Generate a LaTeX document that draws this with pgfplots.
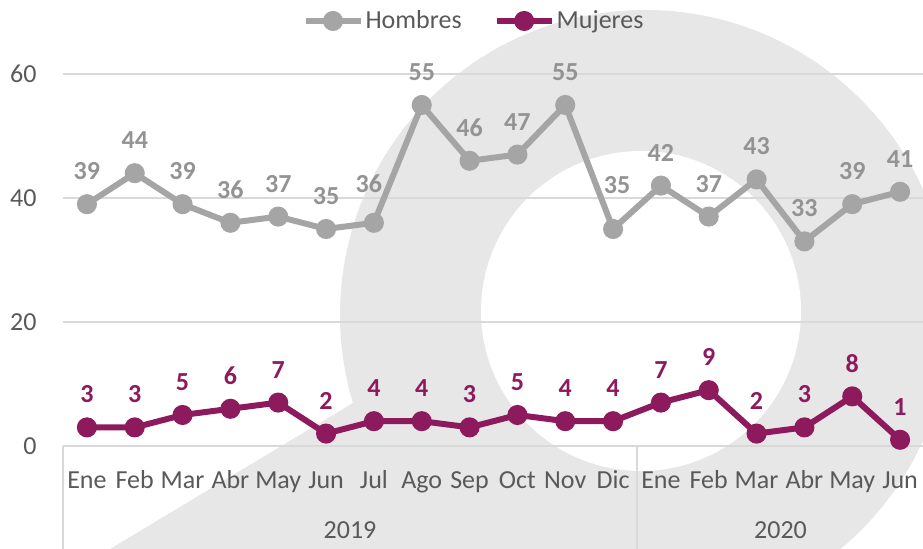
\documentclass[border=0pt]{standalone}
\usepackage{pgfplots}
\pgfplotsset{compat=1.18}
\usepackage{pgfplotstable}
\usepackage{fontspec}
\setmainfont{Carlito}

\definecolor{hgray}{HTML}{A5A5A5}
\definecolor{hlab}{HTML}{939393}
\definecolor{mpurple}{HTML}{8E1A5E}
\definecolor{txt}{HTML}{595959}
\definecolor{gridc}{HTML}{D9D9D9}
\definecolor{wm}{HTML}{E7E7E8}

% x = month index, h = Hombres, m = Mujeres, dx/dy = label nudges (pt)
\pgfplotstableread{
x  h  m  hdx  hdy
0  39 3  0    0
1  44 3  0    0
2  39 5  0    0
3  36 6  0    0
4  37 7  0    0
5  35 2  0    0
6  36 4  -2.5 3
7  55 4  0    0
8  46 3  0    0
9  47 5  0    0
10 55 4  0    0
11 35 4  2    5.5
12 42 7  0    0
13 37 9  0    0
14 43 2  0    0
15 33 3  0    0
16 39 8  0    0
17 41 1  0    0
}\datatable

\newcommand\txtfont{\fontsize{13}{15}\selectfont}
\newcommand\lblfont{\fontsize{13}{15}\selectfont\bfseries}

\begin{document}
\begin{tikzpicture}
\useasboundingbox (0,0) rectangle (461.5pt,274.5pt);
% watermark in the background
\begin{scope}
\clip (0,0) rectangle (461.5pt,274.5pt);
\begin{scope}[shift={(0,274.5pt)},x=0.5pt,y=-0.5pt]
\fill[wm] (645,315) circle[radius=152.5pt];
\fill[wm] (110,549) -- (353,403) -- (480,470) -- (451,549) -- cycle;
\fill[white] (641,311) circle[radius=80pt];
\end{scope}
\end{scope}

\begin{axis}[
  at={(31.5pt,51.5pt)}, anchor=south west,
  scale only axis, width=430.5pt, height=186pt,
  xmin=-0.5, xmax=17.5, ymin=0, ymax=60,
  clip=false,
  axis line style={draw=none},
  tick style={draw=none},
  ytick={0,20,40,60},
  ymajorgrids,
  major grid style={draw=gridc, line width=0.9pt},
  xtick={0,...,17},
  xticklabels={Ene,Feb,Mar,Abr,May,Jun,Jul,Ago,Sep,Oct,Nov,Dic,Ene,Feb,Mar,Abr,May,Jun},
  /pgf/number format/assume math mode=true,
  xticklabel style={anchor=base, inner sep=0pt, yshift=-21.25pt, font=\txtfont, text=txt},
  yticklabel style={anchor=east, inner sep=0pt, xshift=-13pt, font=\txtfont, text=txt},
  legend columns=-1,
  legend style={at={(0.4774,1.1425)}, anchor=center, draw=none, fill=none,
    inner sep=0pt, font=\txtfont, text=txt,
    nodes={inner sep=1pt},
    /tikz/every even column/.append style={column sep=15pt}},
  legend image code/.code={
    \draw[#1, mark repeat=2, mark phase=2] plot coordinates {(0pt,0pt) (13.75pt,0pt) (27.5pt,0pt)};},
  every axis plot/.append style={line width=3pt, mark=*, mark size=3.5pt,
    mark options={solid, line width=0.1pt}},
]
\addplot[hgray, mark options={fill=hgray},
  nodes near coords,
  visualization depends on={\thisrow{hdx} \as \ndx},
  visualization depends on={16.5+\thisrow{hdy} \as \ndy},
  every node near coord/.append style={anchor=center, inner sep=0pt, font=\lblfont, text=hlab,
    xshift=\ndx pt, yshift=\ndy pt}]
  table[x=x, y=h] {\datatable};
\addlegendentry{Hombres}
\addplot[mpurple, mark options={fill=mpurple},
  nodes near coords,
  every node near coord/.append style={anchor=center, inner sep=0pt, font=\lblfont, text=mpurple,
    yshift=16.5pt}]
  table[x=x, y=m] {\datatable};
\addlegendentry{Mujeres}

% year grouping under the month labels
\draw[gridc, line width=0.9pt] (axis cs:-0.5,0) -- ++(0pt,-52pt);
\draw[gridc, line width=0.9pt] (axis cs:11.5,0) -- ++(0pt,-52pt);
\draw[gridc, line width=0.9pt] (axis cs:17.5,0) -- ++(0pt,-52pt);
\node[anchor=base, inner sep=0pt, font=\txtfont, text=txt] at ([yshift=-46.5pt]axis cs:5.5,0) {2019};
\node[anchor=base, inner sep=0pt, font=\txtfont, text=txt] at ([yshift=-46.5pt]axis cs:14.5,0) {2020};
\end{axis}
\end{tikzpicture}
\end{document}
